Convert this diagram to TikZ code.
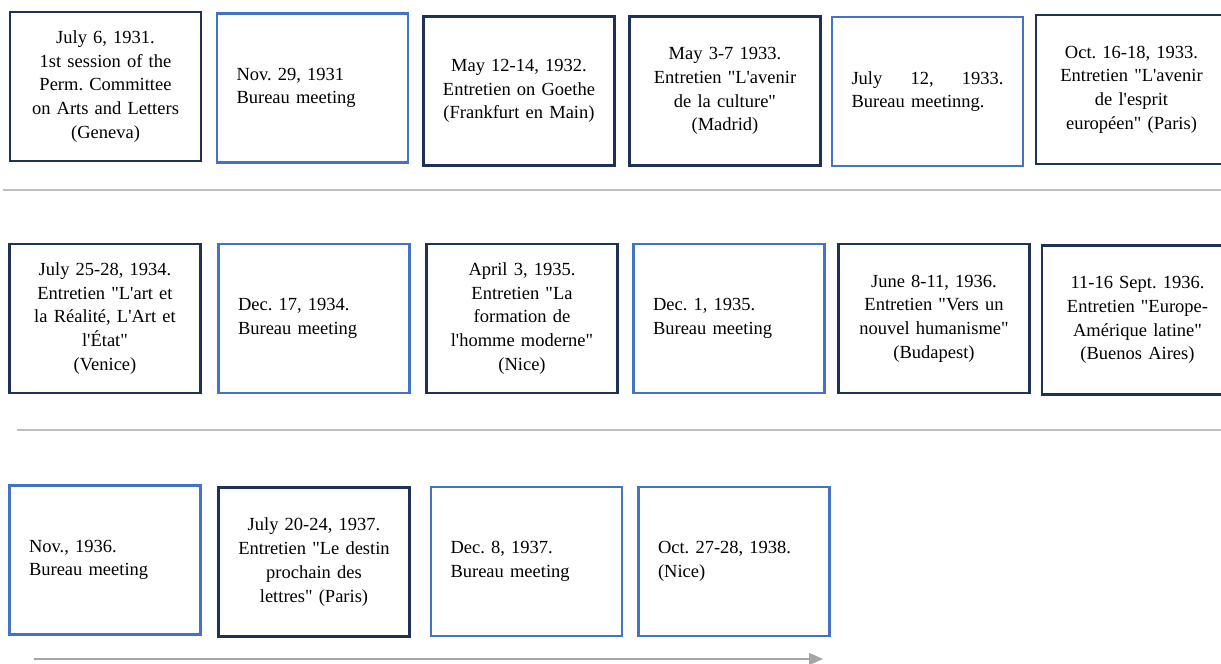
\documentclass[tikz,border=0pt]{standalone}
\usepackage{fontspec}
\setmainfont{Liberation Serif}[Ligatures=TeXOff]
\usetikzlibrary{arrows.meta}
\definecolor{navyline}{RGB}{31,50,86}
\definecolor{bureaublue}{RGB}{68,114,196}
\definecolor{rulegray}{RGB}{190,190,190}
\definecolor{arrowgray}{RGB}{166,166,166}
\newcommand\evfont{\fontsize{18.5}{23.7}\selectfont\frenchspacing}
\tikzset{
  evbox/.style={draw, fill=white, minimum width=191pt,
    minimum height=149pt, inner sep=0pt, font=\evfont},
  entretien/.style={evbox, draw=navyline, line width=2.9pt, text width=180pt, align=center},
  bureau/.style={evbox, draw=bureaublue, line width=2.4pt, text width=152pt, align=left},
  rowrule/.style={draw=rulegray, line width=1.5pt},
  timearrow/.style={draw=arrowgray, line width=1.5pt,
    -{Triangle[length=14pt,width=12pt]}}
}
\begin{document}
\begin{tikzpicture}[x=1pt,y=-1pt]
\path[use as bounding box, clip] (0,0) rectangle (1221,664);

% first row: 1931--1933
\node[entretien] (e1) at (105.5,86.5) {July 6, 1931.\\1st session of the\\Perm. Committee\\on Arts and Letters\\(Geneva)};
\node[bureau] (e2) at (312.5,88) {Nov. 29, 1931\\Bureau meeting};
\node[entretien] (e3) at (519,91) {May 12-14, 1932.\\Entretien on Goethe\\(Frankfurt en Main)};
\node[entretien] (e4) at (725,91) {May 3-7 1933.\\Entretien "L'avenir\\de la culture"\\(Madrid)};
\node[bureau] (e5) at (927.5,91.5) {\hbox to\linewidth{July\hfil 12,\hfil 1933.}\\Bureau meetinng.};
\node[entretien] (e6) at (1131.5,89.5) {Oct. 16-18, 1933.\\Entretien "L'avenir\\de l'esprit\\européen" (Paris)};

\coordinate (r1a) at (3,190);
\coordinate (r1b) at (1221,190);
\draw[rowrule] (r1a) -- (r1b);

% second row: 1934--1936
\node[entretien] (e7) at (105,318.5) {July 25-28, 1934.\\Entretien "L'art et\\la Réalité, L'Art et\\l'État"\\(Venice)};
\node[bureau] (e8) at (314,318.5) {Dec. 17, 1934.\\Bureau meeting};
\node[entretien] (e9) at (522,318.5) {April 3, 1935.\\Entretien "La\\formation de\\l'homme moderne"\\(Nice)};
\node[bureau] (e10) at (729,318.5) {Dec. 1, 1935.\\Bureau meeting};
\node[entretien] (e11) at (934,318.5) {June 8-11, 1936.\\Entretien "Vers un\\nouvel humanisme"\\(Budapest)};
\node[entretien] (e12) at (1137.5,320) {11-16 Sept. 1936.\\Entretien "Europe-\\Amérique latine"\\(Buenos Aires)};

\coordinate (r2a) at (17,430);
\coordinate (r2b) at (1221,430);
\draw[rowrule] (r2a) -- (r2b);

% third row: 1936--1938
\node[bureau] (e13) at (105,560) {Nov., 1936.\\Bureau meeting};
\node[entretien] (e14) at (314,562) {July 20-24, 1937.\\Entretien "Le destin\\prochain des\\lettres" (Paris)};
\node[bureau] (e15) at (526.5,561.5) {Dec. 8, 1937.\\Bureau meeting};
\node[bureau] (e16) at (734,561.5) {Oct. 27-28, 1938.\\(Nice)};

% direction of time
\coordinate (ta) at (34,659);
\coordinate (tb) at (823,659);
\draw[timearrow] (ta) -- (tb);
\end{tikzpicture}
\end{document}
